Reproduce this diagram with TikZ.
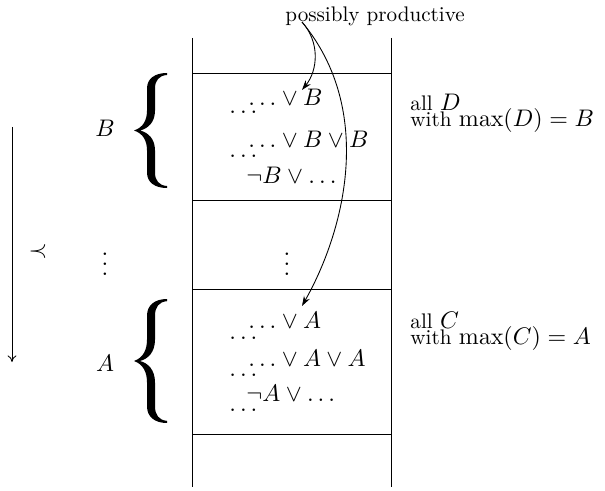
\documentclass[tikz,border=0pt]{standalone}
\usepackage{graphicx}
\usetikzlibrary{arrows.meta}
\newcommand{\mm}[1]{\scalebox{1.09}{$#1$}}
\newcommand{\txs}[1]{\scalebox{0.96}{#1}}
\newcommand{\bracefill}{%
  (0,0) .. controls (9,-3) and (13,-10) .. (13,-20)
  -- (13,-42) .. controls (13,-52) and (21,-57.5) .. (33,-57.5)
  -- (33,-55.5) .. controls (25,-55) and (21,-50) .. (21,-42)
  -- (21,-20) .. controls (21,-8) and (14,-2) .. (6,0)
  .. controls (14,2) and (21,8) .. (21,20)
  -- (21,42) .. controls (21,50) and (25,55) .. (33,55.5)
  -- (33,57.5) .. controls (21,57.5) and (13,52) .. (13,42)
  -- (13,20) .. controls (13,10) and (9,3) .. (0,0) -- cycle}
\begin{document}
\begin{tikzpicture}[x=0.4545pt,y=-0.4545pt,
  txt/.style={inner sep=0pt,anchor=base west},
  lbl/.style={inner sep=0pt},
  ptr/.style={-{Stealth[length=4.5pt,width=3pt]}},
  line width=0.4pt]
\useasboundingbox (0,0) rectangle (605,490);
% column
\draw (192,38) -- (192,487);
\draw (391,38) -- (391,487);
\foreach \y in {73,200,289,434} \draw (192,\y) -- (391,\y);
% B block
\node[txt] (b1) at (248,106) {\mm{\ldots\vee B}};
\node[txt] (b1d) at (229,114) {\mm{\ldots}};
\node[txt] (b2) at (248,148) {\mm{\ldots\vee B\vee B}};
\node[txt] (b2d) at (229,158) {\mm{\ldots}};
\node[txt] (b3) at (246,183) {\mm{\neg B\vee\ldots}};
% A block
\node[txt] (a1) at (248,328) {\mm{\ldots\vee A}};
\node[txt] (a1d) at (229,339) {\mm{\ldots}};
\node[txt] (a2) at (248,366) {\mm{\ldots\vee A\vee A}};
\node[txt] (a2d) at (229,376) {\mm{\ldots}};
\node[txt] (a3) at (246,401) {\mm{\neg A\vee\ldots}};
\node[txt] (a3d) at (229,411) {\mm{\ldots}};
% middle dots
\node[lbl] (vd) at (287,257) {\mm{\vdots}};
\node[lbl] (vdl) at (105,257) {\mm{\vdots}};
% left labels
\node[lbl] (B) at (105,128) {\mm{B}};
\node[lbl] (A) at (105,363) {\mm{A}};
\begin{scope}[shift={(134,130.5)}]
  \fill \bracefill;
\end{scope}
\begin{scope}[shift={(134,361)},yscale=1.078]
  \fill \bracefill;
\end{scope}
\node[lbl] (prec) at (38,252) {\mm{\prec}};
\coordinate (o1) at (12,127);
\coordinate (o2) at (12,362);
\draw[-{To[length=3pt,width=4pt]}] (o1) -- (o2);
% right labels
\node[txt] (allD) at (410,111) {\txs{all} \mm{D}};
\node[txt] (withD) at (410,127) {\txs{with} \mm{\max(D)=B}};
\node[txt] (allC) at (410,328) {\txs{all} \mm{C}};
\node[txt] (withC) at (410,344) {\txs{with} \mm{\max(C)=A}};
% possibly productive
\node[txt] (pp) at (285,22) {\txs{possibly productive}};
\coordinate (s) at (302,22);
\coordinate (t1) at (302,90);
\coordinate (t2) at (302,306);
\draw[ptr] (s) .. controls (320,42) and (318,70) .. (t1);
\draw[ptr] (s) .. controls (375,110) and (345,230) .. (t2);
\end{tikzpicture}
\end{document}
